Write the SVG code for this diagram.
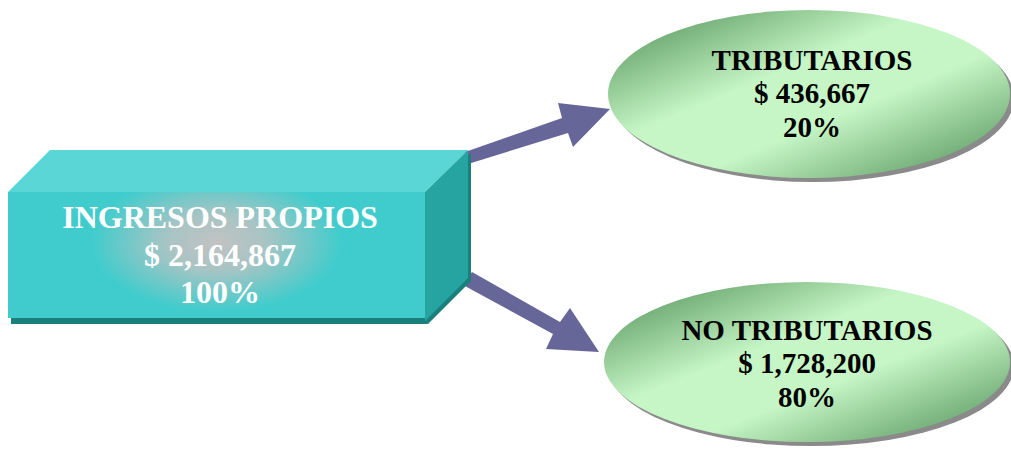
<svg xmlns="http://www.w3.org/2000/svg" width="1011" height="449" viewBox="0 0 1011 449">
<defs>
<linearGradient id="gG" x1="0" y1="0" x2="1" y2="1">
<stop offset="0" stop-color="#4a8a50"/>
<stop offset="0.4" stop-color="#c6f6c6"/>
<stop offset="0.6" stop-color="#c6f6c6"/>
<stop offset="1" stop-color="#4a8a50"/>
</linearGradient>
<radialGradient id="gF" cx="0.5" cy="0.4" r="0.5" gradientTransform="translate(0.5 0.4) scale(0.6 1.1) translate(-0.5 -0.4)">
<stop offset="0" stop-color="#c2c2c2"/>
<stop offset="0.4" stop-color="#a8c4c4"/>
<stop offset="1" stop-color="#40cccc"/>
</radialGradient>
<style>
.t{font-family:"Liberation Serif","Times New Roman",serif;font-weight:bold;text-anchor:middle}
.w{fill:#ffffff;font-size:32px}
.k{fill:#000000;font-size:29px}
.arr{fill:#666699}
.sh{fill:#8a8a8a}
</style>
</defs>
<g id="connectors">
<polygon class="arr" points="465,152 562,118 558,103 610,109 573,147 568,133 468,164"/>
<polygon class="arr" points="472,272 560,322 570,308 599,352 546,349 553,334 463,285"/>
</g>
<g id="ingresos">
<polygon fill="#1b7f7c" points="11,195 428,195 471,153 471,281 428,324 11,324"/>
<polygon fill="#5ad6d6" points="8,192 50,150 468,150 425,192"/>
<polygon fill="#26a4a1" points="425,192 468,150 468,278 425,321"/>
<rect x="8" y="192" width="417" height="126" fill="#40cccc"/>
<rect x="8" y="192" width="417" height="126" fill="url(#gF)"/>
<text class="t w" x="220" y="228">INGRESOS PROPIOS</text>
<text class="t w" x="220" y="266">$ 2,164,867</text>
<text class="t w" x="220" y="303">100%</text>
</g>
<g id="tributarios">
<ellipse class="sh" cx="813" cy="98" rx="201" ry="84"/>
<ellipse cx="809" cy="94" rx="201" ry="84" fill="url(#gG)"/>
<text class="t k" x="812" y="70">TRIBUTARIOS</text>
<text class="t k" x="812" y="103">$ 436,667</text>
<text class="t k" x="812" y="137">20%</text>
</g>
<g id="no_tributarios">
<ellipse class="sh" cx="811" cy="366" rx="203" ry="80"/>
<ellipse cx="807" cy="362" rx="203" ry="80" fill="url(#gG)"/>
<text class="t k" x="807" y="340">NO TRIBUTARIOS</text>
<text class="t k" x="807" y="373">$ 1,728,200</text>
<text class="t k" x="807" y="407">80%</text>
</g>
</svg>
